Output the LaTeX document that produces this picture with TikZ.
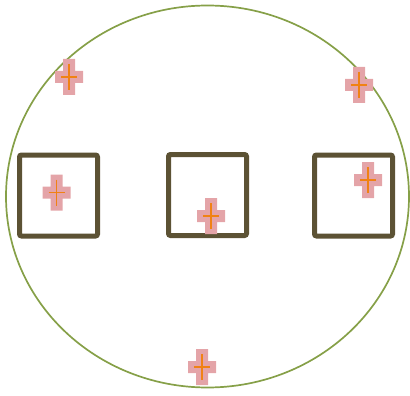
\documentclass[tikz,border=0pt]{standalone}
\usepackage{tikz}
\usetikzlibrary{positioning}

\definecolor{ringgreen}{RGB}{134,160,72}
\definecolor{boxbrown}{RGB}{92,82,52}
\definecolor{markpink}{RGB}{228,164,168}
\definecolor{markorange}{RGB}{240,130,20}

\tikzset{
  ring/.style={draw=ringgreen, line width=1.7pt},
  cage/.style={draw=boxbrown, line width=5pt, rounded corners=2pt,
    minimum width=78pt, minimum height=81pt, inner sep=0pt},
  blot/.style={fill=markpink},
  tick/.style={draw=markorange, line width=1.8pt}
}

\begin{document}
\begin{tikzpicture}[x=1pt,y=-1pt]
\useasboundingbox (0,0) rectangle (410,396);
% outer ring
\draw[ring] (207.5,196.5) ellipse [x radius=201.5, y radius=191];
% boxes
\node[cage] (boxL) at (58.5,195.5) {};
\node[cage] (boxM) at (207.5,195) {};
\node[cage] (boxR) at (353.5,195.5) {};
% markers
\foreach \name/\cx/\cy in {mkA/69/77, mkB/56.5/192.5, mkC/211/216,
                           mkD/368/180, mkE/359/85, mkF/202/367} {
  \coordinate (\name) at (\cx,\cy);
  \fill[blot] (\cx-6,\cy-18) rectangle (\cx+6,\cy+18)
              (\cx-14,\cy-6) rectangle (\cx+14,\cy+6);
  \draw[tick] (\cx-8,\cy) -- (\cx+8,\cy) (\cx,\cy-13) -- (\cx,\cy+13);
}
\end{tikzpicture}
\end{document}
